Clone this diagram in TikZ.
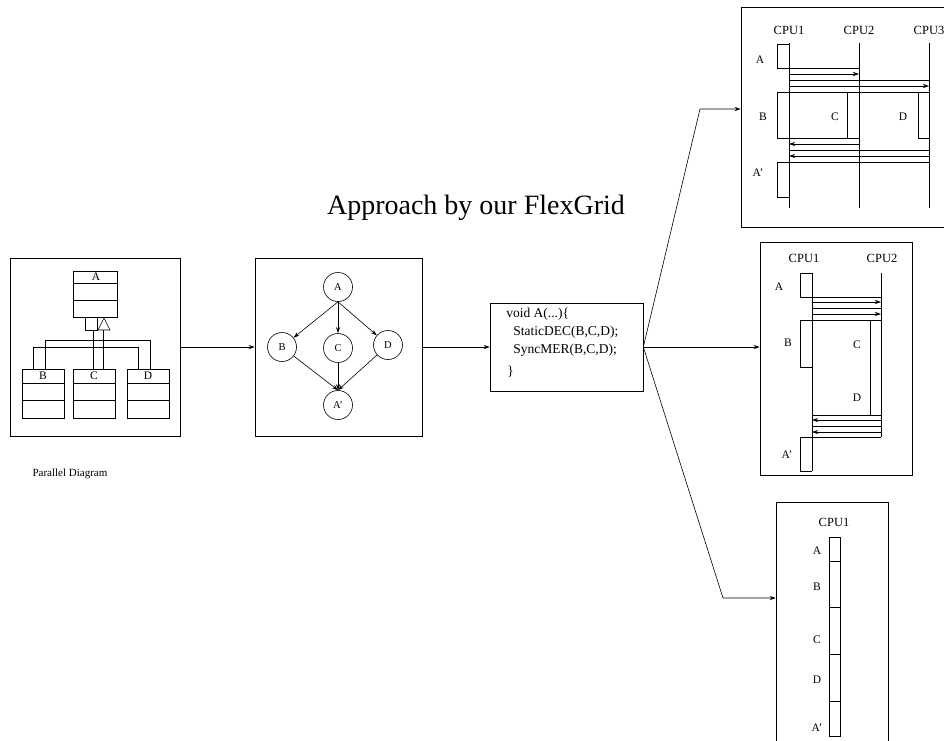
\documentclass[tikz,border=0pt]{standalone}
\usepackage{fontspec}
\setmainfont{Liberation Serif}
\usetikzlibrary{positioning,arrows.meta}

\begin{document}
\begin{tikzpicture}[x=1pt, y=-1pt, >={Stealth[length=6pt,width=4pt]}, line width=0.6pt,
  box/.style={draw, inner sep=0pt},
  state/.style={draw, circle, minimum size=29pt, inner sep=0pt, font=\fontsize{10.5}{12}\selectfont},
  lbl/.style={font=\fontsize{11.5}{13}\selectfont, inner sep=1pt},
  cpu/.style={font=\fontsize{12.5}{14}\selectfont, inner sep=1pt},
  src/.style={font=\fontsize{13.5}{15}\selectfont, inner sep=0pt, anchor=west}]
  \useasboundingbox (0,0) rectangle (944,740);

  \node[font=\fontsize{28}{32}\selectfont] (title) at (476,208) {Approach by our FlexGrid};

  % frames
  \node[box, minimum width=170, minimum height=178] (pd) at (95,347) {};
  \node[box, minimum width=167, minimum height=178] (dag) at (338.5,347) {};
  \node[box, minimum width=153, minimum height=88] (code) at (566.5,347) {};
  \node[box, minimum width=219, minimum height=220] (s3) at (850.5,117) {};
  \node[box, minimum width=152, minimum height=233] (s2) at (836,358.5) {};
  \node[box, minimum width=112, minimum height=250] (s1) at (832,627) {};
  \node[font=\fontsize{11}{13}\selectfont] (cap) at (70,474) {Parallel Diagram};

  % parallel diagram
  \draw (73,271) rectangle (117,317);
  \draw (73,283) -- (117,283);
  \draw (73,300) -- (117,300);
  \node[lbl] (cA) at (96,277) {A};
  \foreach \n/\x in {B/22,C/73,D/127} {
    \draw (\x,369) rectangle ++(42,49);
    \draw (\x,383) -- ++(42,0);
    \draw (\x,400) -- ++(42,0);
    \node[lbl] (c\n) at (\x+21,376) {\n};
  }
  \draw (85,317) -- (85,330) -- (97,330) -- (97,317);
  \draw (104,318) -- (98,330) -- (110,330) -- cycle;
  \draw (93,330) -- (93,369);
  \draw (103,330) -- (103,369);
  \draw (45,369) -- (45,340) -- (150,340) -- (150,369);
  \draw (33,369) -- (33,347) -- (138,347) -- (138,369);

  % task graph
  \node[state] (A) at (338,287) {A};
  \node[state] (B) at (282,347) {B};
  \node[state] (C) at (338,348) {C};
  \node[state] (D) at (388,345) {D};
  \node[state] (A2) at (338,405) {A'};
  \path[->] (A.south) edge (B) edge (C) edge (D);
  \path[->] (B) edge (A2.north) (C) edge (A2.north) (D) edge (A2.north);

  % code
  \node[src] (l1) at (506,314) {void A(...)\{};
  \node[src] (l2) at (513,332) {StaticDEC(B,C,D);};
  \node[src] (l3) at (513,350) {SyncMER(B,C,D);};
  \node[src] (l4) at (507,372) {\}};

  \path[->] (pd.east) edge (dag.west) (dag.east) edge (code.west);
  \coordinate (k1) at (700,109);
  \coordinate (k3) at (723,598);
  \draw[->] (code.east) -- (k1) -- (k1 -| s3.west);
  \draw[->] (code.east) -- (code.east -| s2.west);
  \draw[->] (code.east) -- (k3) -- (k3 -| s1.west);

  % three cpus
  \foreach \i/\x in {1/789,2/859,3/929} {
    \node[cpu] (p\i) at (\x,30) {CPU\i};
    \draw (\x,43) -- (\x,208);
  }
  \draw (789,44) -- (777,44) -- (777,68) -- (859,68);
  \draw[->] (789,74) -- (859,74);
  \draw (789,80) -- (929,80);
  \draw[->] (789,86) -- (929,86);
  \draw (777,138) -- (777,92) -- (929,92);
  \draw (777,138) -- (859,138);
  \draw (847,92) -- (847,138);
  \draw (918,92) -- (918,138) -- (929,138);
  \draw[->] (859,144) -- (789,144);
  \draw (929,150) -- (789,150);
  \draw[->] (929,156) -- (789,156);
  \draw (929,162) -- (777,162) -- (777,197) -- (789,197);
  \node[lbl] (pA) at (760,60) {A};
  \node[lbl] (pB) at (763,117) {B};
  \node[lbl] (pC) at (835,117) {C};
  \node[lbl] (pD) at (903,117) {D};
  \node[lbl] (pA2) at (758,173) {A'};

  % two cpus
  \node[cpu] (q1) at (804,258) {CPU1};
  \node[cpu] (q2) at (882,258) {CPU2};
  \draw (812,273) -- (812,471);
  \draw (881,273) -- (881,437);
  \draw (812,273) -- (800,273) -- (800,297) -- (881,297);
  \draw[->] (812,302) -- (881,302);
  \draw (812,308) -- (881,308);
  \draw[->] (812,314) -- (881,314);
  \draw (800,367) -- (800,320) -- (881,320);
  \draw (800,367) -- (812,367);
  \draw (870,320) -- (870,415);
  \draw (812,415) -- (881,415);
  \draw[->] (881,420) -- (812,420);
  \draw (881,426) -- (812,426);
  \draw[->] (881,432) -- (812,432);
  \draw (881,437) -- (800,437) -- (800,471) -- (812,471);
  \node[lbl] (qA) at (779,287) {A};
  \node[lbl] (qB) at (788,343) {B};
  \node[lbl] (qC) at (857,345) {C};
  \node[lbl] (qD) at (857,398) {D};
  \node[lbl] (qA2) at (787,455) {A'};

  % one cpu
  \node[cpu] (r1) at (834,522) {CPU1};
  \draw (829,537) rectangle (840,736);
  \foreach \y in {561,607,654,701}
    \draw (829,\y) -- (840,\y);
  \foreach \t/\y [count=\k] in {A/551,B/587,C/640,D/680,A'/728}
    \node[lbl] (u\k) at (817,\y) {\t};
\end{tikzpicture}
\end{document}
